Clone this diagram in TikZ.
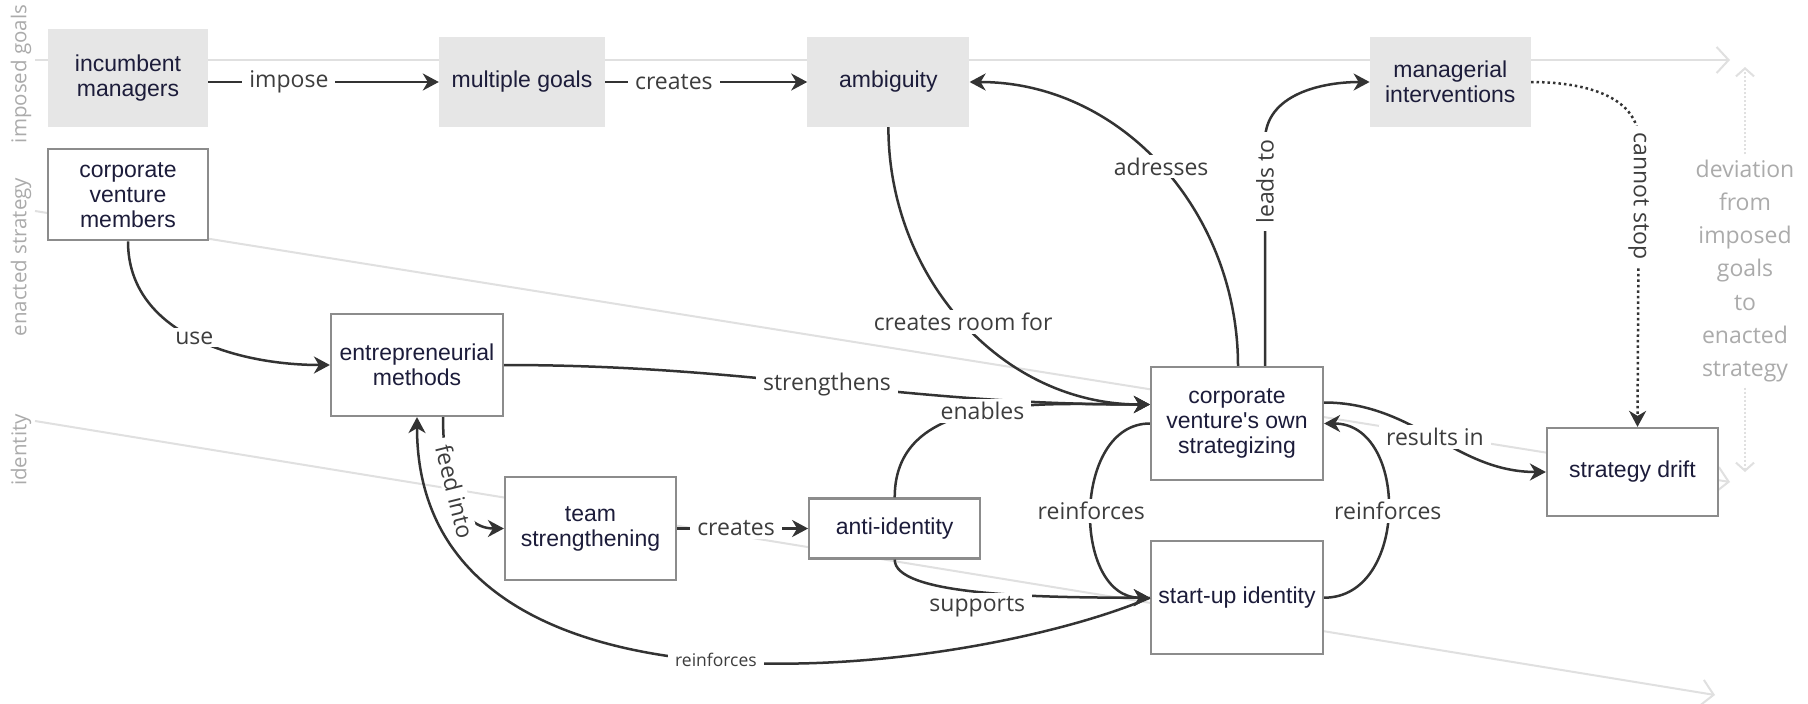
\documentclass[tikz,border=0pt]{standalone}
\usepackage{fontspec}
\setmainfont{Liberation Sans}[Ligatures=TeXOff]
\newfontfamily\opensans{Open Sans}
\usetikzlibrary{positioning,arrows.meta}
\definecolor{boxgrey}{HTML}{E6E6E6}
\definecolor{boxline}{HTML}{8C8C8C}
\definecolor{nodetext}{HTML}{1C1C3A}
\definecolor{linkc}{HTML}{333333}
\definecolor{lblc}{HTML}{3D3D3D}
\definecolor{lanec}{HTML}{E0E0E0}
\definecolor{lanetext}{HTML}{ABABAB}

\begin{document}
\begin{tikzpicture}[x=1pt, y=-1pt,
    every node/.style={align=center, inner sep=0pt, text=nodetext, font=\fontsize{23}{25}\selectfont},
    greybox/.style={fill=boxgrey, minimum width=162pt, minimum height=90pt},
    plainbox/.style={draw=boxline, line width=2.2pt, fill=white, minimum width=172pt},
    lbl/.style={fill=white, text=lblc, inner xsep=7pt, inner ysep=3pt, font=\opensans\fontsize{23}{27}\selectfont},
    lblsmall/.style={lbl, font=\opensans\fontsize{17.5}{20}\selectfont},
    link/.style={draw=linkc, line width=2.5pt, -{Stealth[length=16pt, width=17pt, inset=5pt]}},
    lane/.style={draw=lanec, line width=2pt, -{Straight Barb[length=12pt, width=26pt]}},
    lanetxt/.style={text=lanetext, font=\opensans\fontsize{23}{33.3}\selectfont},
    lanename/.style={lanetxt, rotate=90, font=\opensans\fontsize{20.5}{24}\selectfont}]

    \path[fill=white, use as bounding box] (0,0) rectangle (1808,704);

    \coordinate (ig0) at (35,60);
    \coordinate (ig1) at (1730,60);
    \coordinate (es0) at (35,211);
    \coordinate (es1) at (1730,482);
    \coordinate (id0) at (35,421);
    \coordinate (id1) at (1715,695);
    \coordinate (devtop) at (1745,67);
    \coordinate (devbot) at (1745,472);

    \draw[lane] (ig0) -- (ig1);
    \draw[lane] (es0) -- (es1);
    \draw[lane] (id0) -- (id1);

    \node[lanename] (igl) at (21,74) {imposed goals};
    \node[lanename] (esl) at (21,257) {enacted strategy};
    \node[lanename] (idl) at (21,450) {identity};
    \node[lanetxt, inner ysep=5pt] (dev) at (1745,271) {deviation\\from\\imposed\\goals\\to\\enacted\\strategy};

    \draw[lane, dotted, -{Straight Barb[length=8pt, width=18pt]}] (dev.north) -- (devtop);
    \draw[lane, dotted, -{Straight Barb[length=8pt, width=18pt]}] (dev.south) -- (devbot);

    \node[greybox, minimum width=160pt, minimum height=98pt] (im) at (128,78) {incumbent\\managers};
    \node[greybox, minimum width=166pt] (mg) at (522,82) {multiple goals};
    \node[greybox, right=202pt of mg] (amb) {ambiguity};
    \node[greybox, minimum width=161pt, right=400pt of amb] (mi) {managerial\\interventions};

    \node[plainbox, minimum width=160pt, minimum height=91pt, below=21pt of im] (cvm) {corporate\\venture\\members};
    \node[plainbox, minimum height=102pt] (em) at (417,365) {entrepreneurial\\methods};
    \node[plainbox, minimum width=171pt, minimum height=103pt] (ts) at (590.5,528.5) {team\\strengthening};
    \node[plainbox, minimum width=171pt, minimum height=60pt, right=131pt of ts] (anti) {anti-identity};
    \node[plainbox, minimum height=113pt] (cvs) at (1237,423.5) {corporate\\venture's own\\strategizing};
    \node[plainbox, minimum height=113pt, below=59pt of cvs] (stu) {start-up identity};
    \node[plainbox, minimum width=171pt, minimum height=88pt] (sd) at (1632.5,472) {strategy drift};

    \draw[link] (im.east |- mg) -- node[lbl, pos=0.35] {impose} (mg);
    \draw[link] (mg) -- node[lbl, pos=0.34] {creates} (amb);
    \draw[link] ([xshift=1pt]cvs.north) to[out=90, in=0] node[lbl] {adresses} (amb.east);
    \draw[link] ([xshift=28pt]cvs.north) -- node[lbl, rotate=90, pos=0.82] {leads to} ++(0,-225) to[out=90, in=180] (mi.west);
    \draw[link, dash pattern=on 2.5pt off 3pt] (mi.east) to[out=0, in=90] ++(108,60) -- node[lbl, rotate=-90, pos=0.19] {cannot stop} ([xshift=5pt]sd.north);

    \draw[link] (cvm.south) to[out=-90, in=180] node[lbl] {use} (em.west);
    \draw[link] (em.east) to[out=0, in=180] node[lbl] {strengthens} ([yshift=19pt]cvs.west);
    \draw[link] (amb.south) to[out=-90, in=180] node[lbl] {creates room for} ([yshift=19pt]cvs.west);
    \draw[link] (anti.north) to[out=90, in=180] node[lbl] {enables} ([yshift=19pt]cvs.west);
    \draw[link] (cvs.west) to[out=180, in=180, looseness=1.15] node[lbl] {reinforces} (stu.west);
    \draw[link] (anti.south) .. controls +(0,35) and +(-120,0) .. node[lbl, yshift=-15pt] {supports} (stu.west);
    \draw[link] (stu.west) .. controls +(-180,77) and +(0,330) .. node[lblsmall] {reinforces} (em.south);
    \draw[link] ([xshift=26pt]em.south) to[out=-90, in=180] node[lbl, rotate=-76] {feed into} (ts.west);
    \draw[link] (ts) -- node[lbl, pos=0.45] {creates} (anti);
    \draw[link] ([yshift=21pt]cvs.east) to[out=0, in=180] node[lbl] {results in} (sd.west);
    \draw[link] (stu.east) to[out=0, in=0, looseness=1.25] node[lbl] {reinforces} (cvs.east);
\end{tikzpicture}
\end{document}
